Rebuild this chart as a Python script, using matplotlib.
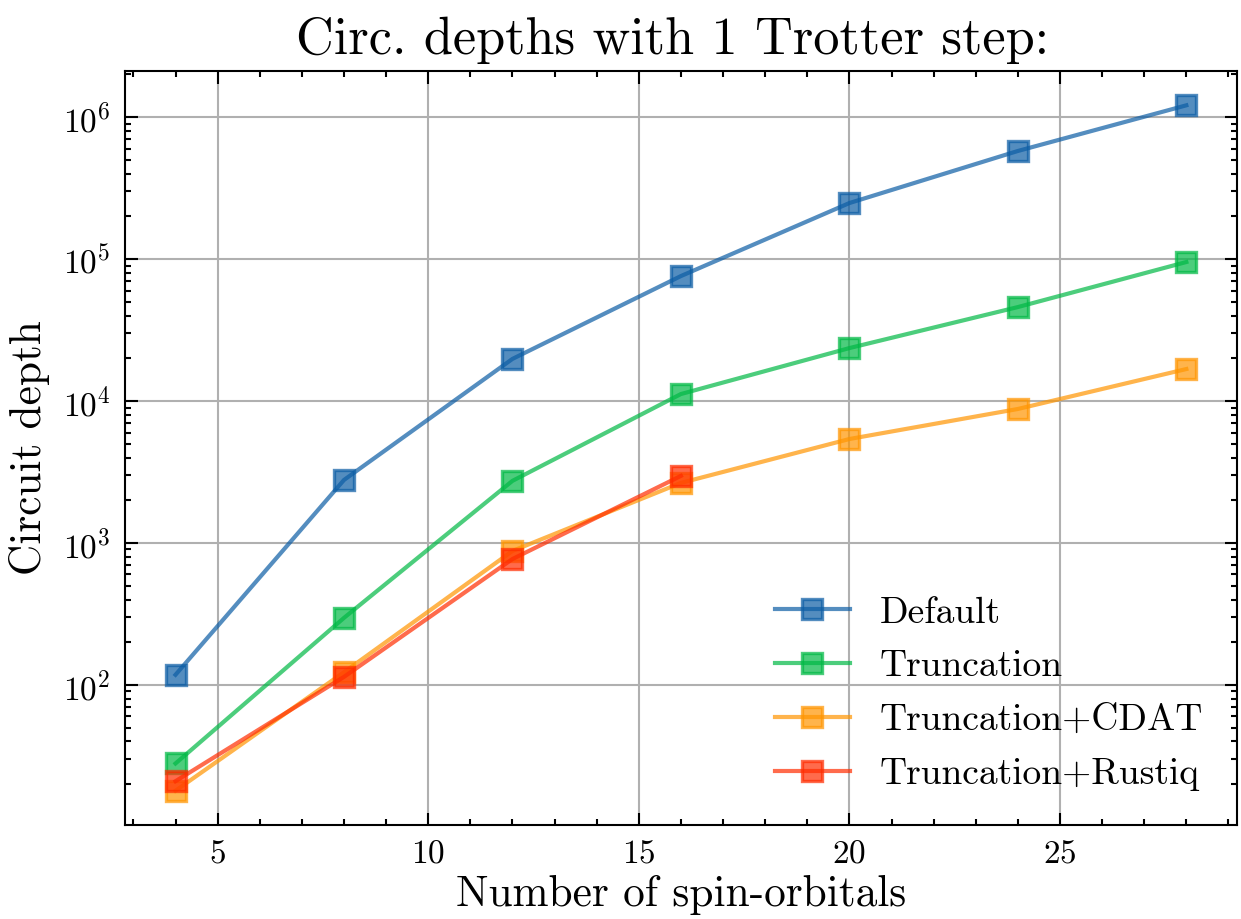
import numpy as np
import matplotlib
matplotlib.use("Agg")
import matplotlib.pyplot as plt
from matplotlib.ticker import MultipleLocator

# Data
n_orbitals = [4, 8, 12, 16, 20, 24, 28]
n_orbitals_rustiq = [4, 8, 12, 16]
depth_default = [118, 2780, 19800, 75900, 248000, 577000, 1210000]
depth_trunc = [28, 297, 2740, 11200, 23600, 45900, 95300]
depth_cdat = [18, 123, 879, 2650, 5400, 8790, 16800]
depth_rustiq = [21, 114, 771, 2970]

# Science-like style
plt.rcParams['font.family'] = ['cmr10', 'DejaVu Serif']
plt.rcParams['mathtext.fontset'] = 'cm'
plt.rcParams['axes.formatter.use_mathtext'] = True
plt.rcParams['xtick.direction'] = 'in'
plt.rcParams['ytick.direction'] = 'in'
plt.rcParams['xtick.top'] = True
plt.rcParams['ytick.right'] = True
plt.rcParams['xtick.minor.visible'] = True
plt.rcParams['ytick.minor.visible'] = True
plt.rcParams['xtick.major.size'] = 3
plt.rcParams['ytick.major.size'] = 3
plt.rcParams['xtick.minor.size'] = 1.5
plt.rcParams['ytick.minor.size'] = 1.5
plt.rcParams['xtick.major.width'] = 0.5
plt.rcParams['ytick.major.width'] = 0.5
plt.rcParams['xtick.minor.width'] = 0.5
plt.rcParams['ytick.minor.width'] = 0.5
plt.rcParams['axes.linewidth'] = 0.5

fig = plt.figure(figsize=(1241 / 300, 919 / 300), dpi=300)
ax = fig.add_axes([0.1007, 0.1023, 0.8960, 0.8204])

colors = ['#0C5DA5', '#00B945', '#FF9500', '#FF2C00']
series = [
    (n_orbitals, depth_default, 'Default'),
    (n_orbitals, depth_trunc, 'Truncation'),
    (n_orbitals, depth_cdat, 'Truncation+CDAT'),
    (n_orbitals_rustiq, depth_rustiq, 'Truncation+Rustiq'),
]
for (x, y, lab), c in zip(series, colors):
    ax.plot(x, y, marker='s', color=c, alpha=0.7, lw=1.0, ms=5,
            markeredgewidth=0.8, label=lab)

ax.set_yscale('log')
ax.xaxis.set_minor_locator(MultipleLocator(1))
ax.grid(True, which='major', color='#b0b0b0', lw=0.5)
ax.set_axisbelow(True)

ax.tick_params(labelsize=8)
ax.set_xlabel('Number of spin-orbitals', fontsize=10.4, labelpad=1.5)
ax.set_ylabel('Circuit depth', fontsize=10.4, labelpad=3)
ax.set_title('Circ. depths with 1 Trotter step: ', fontsize=12.55, pad=4)
ax.legend(frameon=False, fontsize=9, loc='lower right', labelspacing=0.55)

fig.savefig('out.png', dpi=300)
